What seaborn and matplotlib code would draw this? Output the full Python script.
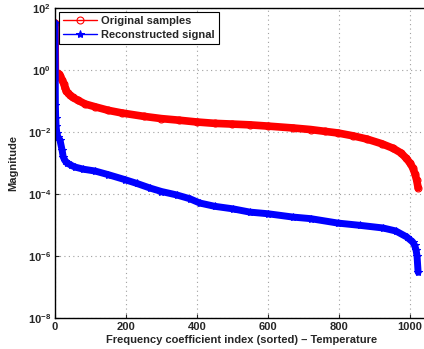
import numpy as np
import pandas as pd
import seaborn as sns
import matplotlib.pyplot as plt
from matplotlib.ticker import FuncFormatter, FixedLocator

# values (index, magnitude)
orig_idx = [0, 1, 5, 10, 15, 20, 25, 28, 32, 37, 42, 50, 65, 85, 113, 150, 189,
            250, 300, 350, 400, 450, 500, 549, 600, 670, 720, 760, 797, 840,
            879, 920, 952, 975, 990, 1000, 1008, 1014, 1019, 1023]
orig_mag = [33, 0.87, 0.82, 0.75, 0.62, 0.48, 0.36, 0.27, 0.21, 0.18, 0.155,
            0.13, 0.105, 0.08, 0.065, 0.05, 0.041, 0.032, 0.027, 0.024, 0.021,
            0.019, 0.018, 0.017, 0.0155, 0.0135, 0.012, 0.0105, 0.0093, 0.0075,
            0.0059, 0.0042, 0.003, 0.0021, 0.0014, 0.001, 0.0007, 0.00045,
            0.00028, 0.00016]

rec_idx = [0, 1, 2, 3, 5, 8, 14, 20, 23, 28, 34, 45, 56, 80, 113, 150, 197,
           230, 268, 300, 343, 380, 408, 450, 502, 549, 600, 670, 720, 797,
           860, 924, 960, 991, 1008, 1013, 1017, 1020, 1023]
rec_mag = [33, 0.074, 0.028, 0.016, 0.0093, 0.007, 0.0055, 0.0026, 0.0016,
           0.0012, 0.001, 0.00085, 0.00074, 0.00063, 0.00055, 0.00042, 0.00029,
           0.00022, 0.000155, 0.00012, 0.000093, 0.00007, 0.000051, 0.00004,
           0.000033, 0.000026, 0.000023, 0.000018, 0.000016, 0.0000115,
           0.0000097, 0.000008, 0.0000064, 0.0000041, 0.0000028, 2.2e-6,
           1.6e-6, 1.0e-6, 3e-7]

y_decades = [-8, -6, -4, -2, 0, 2]
x_ticks = [0, 200, 400, 600, 800, 1000]

sns.set_style("ticks")
plt.rcParams['font.family'] = ['Liberation Sans', 'DejaVu Sans']
plt.rcParams['font.weight'] = 'bold'
plt.rcParams['mathtext.fontset'] = 'custom'
plt.rcParams['mathtext.rm'] = 'Liberation Sans:bold'
plt.rcParams['mathtext.bf'] = 'Liberation Sans:bold'

df_orig = pd.DataFrame({"idx": orig_idx, "mag": orig_mag})
df_rec = pd.DataFrame({"idx": rec_idx, "mag": rec_mag})

fig = plt.figure(figsize=(4.24, 3.49), dpi=100)
ax = fig.add_axes([0.1297, 0.089, 0.879, 0.888])

sns.lineplot(data=df_orig, x="idx", y="mag", ax=ax, color="red", linewidth=5.5,
             marker="o", markersize=5, markerfacecolor="none",
             markeredgecolor="red", markeredgewidth=0.8,
             label="Original samples")
sns.lineplot(data=df_rec, x="idx", y="mag", ax=ax, color="blue", linewidth=5,
             marker="*", markersize=6, markeredgecolor="blue",
             label="Reconstructed signal")
# thin vertical connection at the first point
ax.plot(rec_idx[:2], rec_mag[:2], color="blue", linewidth=1)

ax.set_yscale("log")
ax.set_xlim(0, 1050)
ax.set_ylim(1e-8, 1e2)
ax.yaxis.set_major_locator(FixedLocator([10.0 ** d for d in y_decades]))
ax.yaxis.set_minor_locator(FixedLocator([]))
ax.yaxis.set_major_formatter(FuncFormatter(lambda v, p: r'$\mathbf{10^{%d}}$' % round(np.log10(v))))
ax.set_xticks(x_ticks)
ax.tick_params(direction="in", labelsize=8, length=3, width=0.8, pad=3)
ax.grid(True, linestyle=(0, (1, 3)), color="#a0a0a0", linewidth=0.8)
for s in ax.spines.values():
    s.set_linewidth(1)
    s.set_color("black")

ax.set_xlabel("Frequency coefficient index (sorted) \u2013 Temperature",
              fontsize=8, fontweight="bold", labelpad=2)
ax.set_ylabel("Magnitude", fontsize=8, fontweight="bold", labelpad=7)

leg = ax.legend(loc="upper left", fontsize=8, frameon=True, fancybox=False,
                edgecolor="black", framealpha=1, borderpad=0.4,
                handlelength=3, labelspacing=0.3, borderaxespad=0.35,
                handletextpad=0.4)
leg.get_frame().set_linewidth(0.8)
for h in leg.get_lines():
    h.set_linewidth(1)

fig.savefig("out.png", dpi=100)
